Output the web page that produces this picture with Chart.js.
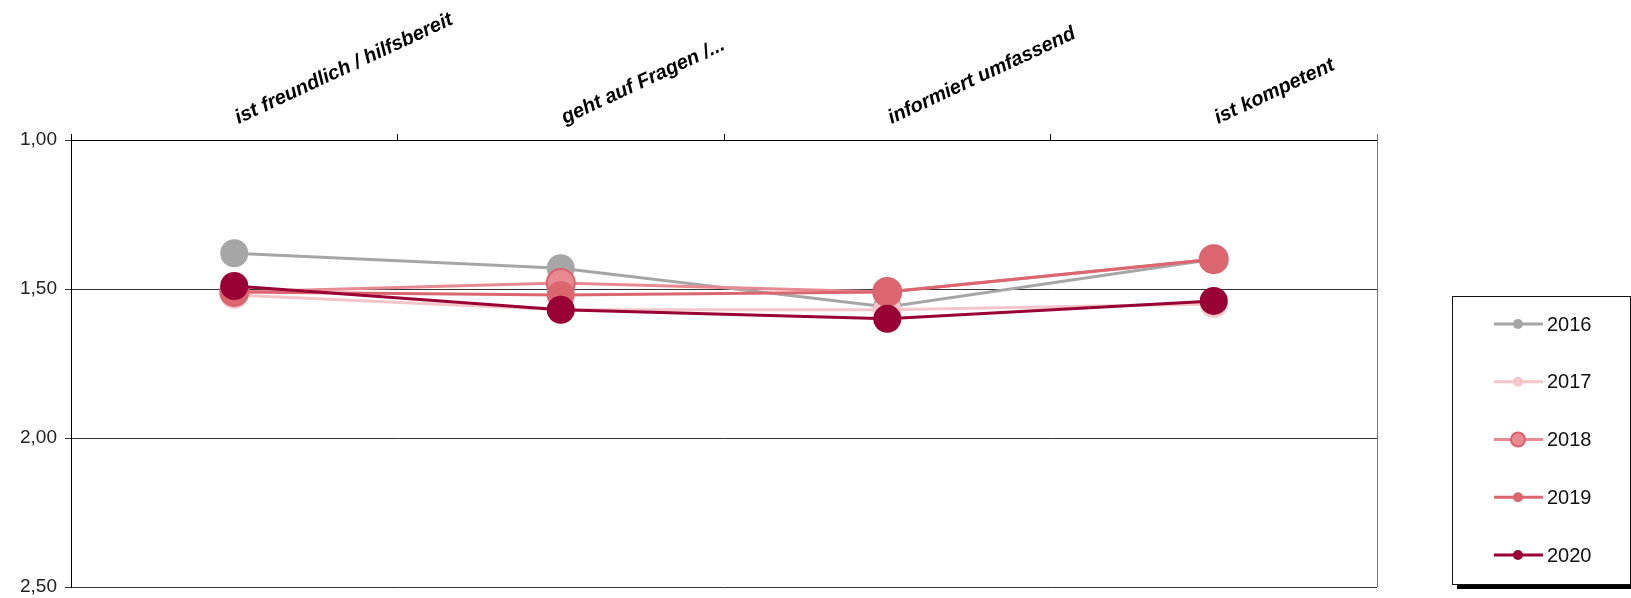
<!DOCTYPE html>
<html>
<head>
<meta charset="utf-8">
<script src="https://cdn.jsdelivr.net/npm/chart.js@4/dist/chart.umd.min.js"></script>
<style>
  body { margin: 0; background: #fff; }
  #chart { display: block; }
</style>
</head>
<body>
<canvas id="chart" width="1631" height="598"></canvas>
<script>
// Daten
const categories = ['ist freundlich / hilfsbereit', 'geht auf Fragen /...', 'informiert umfassend', 'ist kompetent'];
const years = ['2016', '2017', '2018', '2019', '2020'];
const values2016 = [1.38, 1.43, 1.56, 1.40];
const values2017 = [1.52, 1.57, 1.57, 1.55];
const values2018 = [1.51, 1.48, 1.51, 1.40];
const values2019 = [1.51, 1.52, 1.51, 1.40];
const values2020 = [1.49, 1.57, 1.60, 1.54];
const yTicks = [1.0, 1.5, 2.0, 2.5];

const seriesValues = [values2016, values2017, values2018, values2019, values2020];
const lineColors = ['#a6a6a6', '#f4c5c9', '#e88a92', '#dc6670', '#990033'];
const pointBorders = ['#a6a6a6', '#f4c5c9', '#d9616c', '#dc6670', '#990033'];

const FONT = '"Liberation Sans", Arial, Helvetica, sans-serif';

// frame on the right side of the plot area
const frameRight = {
  id: 'frameRight',
  afterDatasetsDraw(chart) {
    const { ctx, chartArea } = chart;
    ctx.save();
    ctx.strokeStyle = '#777';
    ctx.lineWidth = 1;
    ctx.beginPath();
    ctx.moveTo(Math.round(chartArea.right) + 0.5, chartArea.top - 6);
    ctx.lineTo(Math.round(chartArea.right) + 0.5, chartArea.bottom);
    ctx.stroke();
    ctx.restore();
  }
};

// legend box with shadow, drawn from the datasets
const boxLegend = {
  id: 'boxLegend',
  afterDraw(chart) {
    const ctx = chart.ctx;
    const left = 1452, top = 296, w = 178, h = 288;
    ctx.save();
    ctx.fillStyle = '#000';
    ctx.fillRect(left + 5, top + h, w, 5);
    ctx.fillStyle = '#fff';
    ctx.fillRect(left, top, w, h);
    ctx.strokeStyle = '#111';
    ctx.lineWidth = 1;
    ctx.strokeRect(left + 0.5, top + 0.5, w, h);

    chart.data.datasets.forEach((ds, i) => {
      const y = top + 28 + i * 57.75;
      ctx.strokeStyle = ds.borderColor;
      ctx.lineWidth = 3;
      ctx.beginPath();
      ctx.moveTo(1494, y);
      ctx.lineTo(1543, y);
      ctx.stroke();

      ctx.beginPath();
      const r = i === 2 ? 7 : 5;
      ctx.arc(1518, y, r, 0, Math.PI * 2);
      ctx.fillStyle = ds.pointBackgroundColor;
      ctx.fill();
      if (i === 2) {
        ctx.lineWidth = 2;
        ctx.strokeStyle = ds.pointBorderColor;
        ctx.stroke();
      }

      ctx.fillStyle = '#111';
      ctx.font = '20px ' + FONT;
      ctx.textBaseline = 'middle';
      ctx.textAlign = 'left';
      ctx.fillText(ds.label, 1547, y + 1);
    });
    ctx.restore();
  }
};

const datasets = years.map((year, i) => ({
  label: year,
  data: seriesValues[i],
  borderColor: lineColors[i],
  backgroundColor: lineColors[i],
  pointBackgroundColor: lineColors[i],
  pointBorderColor: pointBorders[i],
  pointBorderWidth: i === 2 ? 2 : 0,
  pointRadius: 14,
  pointHoverRadius: 14,
  borderWidth: 3,
  tension: 0,
  fill: false,
  order: years.length - i
}));

new Chart(document.getElementById('chart').getContext('2d'), {
  type: 'line',
  data: { labels: categories, datasets: datasets },
  options: {
    responsive: false,
    animation: false,
    layout: { autoPadding: false, padding: { top: 0, right: 254, bottom: 11, left: 0 } },
    plugins: {
      legend: { display: false },
      tooltip: { enabled: false }
    },
    scales: {
      x: {
        position: 'top',
        offset: true,
        afterFit(scale) { scale.height = 140; },
        grid: {
          offset: true,
          drawOnChartArea: false,
          drawTicks: true,
          tickLength: 6,
          color: '#000'
        },
        border: { display: true, color: '#000', width: 1 },
        ticks: {
          minRotation: 25,
          maxRotation: 25,
          autoSkip: false,
          padding: 4,
          labelOffset: 12,
          color: '#000',
          font: { family: FONT, size: 20, weight: 'bold', style: 'italic' }
        }
      },
      y: {
        reverse: true,
        min: 1,
        max: 2.5,
        afterFit(scale) {
          scale.width = 71;
          scale.paddingTop = 0;
          scale.paddingBottom = 0;
        },
        afterBuildTicks(scale) { scale.ticks = yTicks.map(v => ({ value: v })); },
        grid: {
          color: '#333',
          lineWidth: 1,
          drawTicks: true,
          tickLength: 6
        },
        border: { display: true, color: '#000', width: 1 },
        ticks: {
          padding: 8,
          color: '#222',
          font: { family: FONT, size: 19 },
          callback: v => v.toFixed(2).replace('.', ',')
        }
      }
    }
  },
  plugins: [frameRight, boxLegend]
});
</script>
</body>
</html>
